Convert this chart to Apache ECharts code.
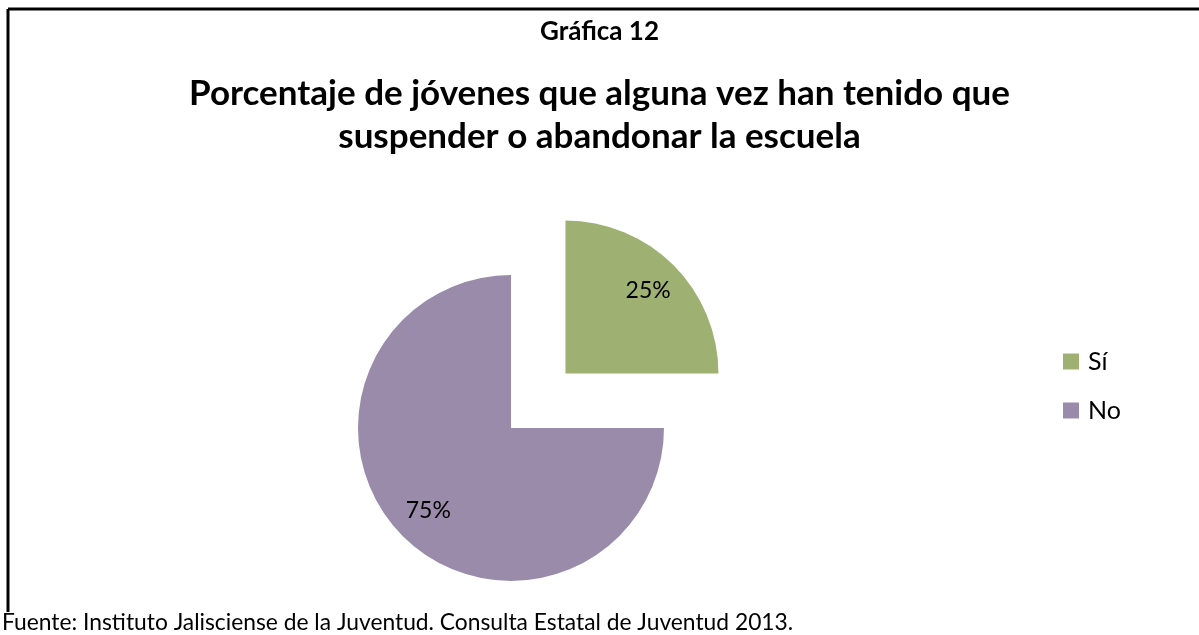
<!DOCTYPE html>
<html>
<head>
<meta charset="utf-8">
<script src="https://cdn.jsdelivr.net/npm/echarts@6/dist/echarts.min.js"></script>
<style>
  html, body { margin: 0; padding: 0; background: #fff; }
  #chart { width: 1199px; height: 635px; }
</style>
</head>
<body>
<div id="chart"></div>
<script>
// datos de la gráfica
const categorias = ["Sí", "No"];
const porcentajes = [25, 75];
const colores = ["#9EB172", "#9A8BAB"];

const fuente = "Lato, 'Open Sans', sans-serif";

let myChart = echarts.init(document.getElementById("chart"));

const datos = categorias.map((c, i) => ({
  name: c,
  value: porcentajes[i],
  selected: i === 0, // la rebanada "Sí" va separada
  itemStyle: { color: colores[i] },
}));

let option = {
  animation: false,
  title: [
    {
      text: "Gráfica 12",
      left: "center",
      top: 14,
      textStyle: { fontFamily: fuente, fontSize: 26, fontWeight: "bold", color: "#000" },
    },
    {
      text: "Porcentaje de jóvenes que alguna vez han tenido que\nsuspender o abandonar la escuela",
      left: "center",
      top: 67,
      textStyle: {
        fontFamily: fuente,
        fontSize: 35,
        fontWeight: "bold",
        color: "#000",
        lineHeight: 43,
      },
    },
    {
      text: "Fuente: Instituto Jalisciense de la Juventud. Consulta Estatal de Juventud 2013.",
      left: -3,
      top: 606,
      textStyle: { fontFamily: fuente, fontSize: 22.8, fontWeight: "normal", color: "#000" },
    },
  ],
  legend: {
    orient: "vertical",
    left: 1058,
    top: 344,
    itemWidth: 16,
    itemHeight: 16,
    itemGap: 24,
    icon: "rect",
    selectedMode: false,
    data: categorias,
    textStyle: { fontFamily: fuente, fontSize: 25, color: "#000", padding: [0, 0, 0, 4] },
  },
  graphic: [
    { type: "line", shape: { x1: 8, y1: 9, x2: 1199, y2: 9 }, style: { stroke: "#000", lineWidth: 3 } },
    { type: "line", shape: { x1: 8, y1: 9, x2: 8, y2: 612 }, style: { stroke: "#000", lineWidth: 3 } },
  ],
  series: [
    {
      name: "pie",
      type: "pie",
      center: [511, 428],
      radius: 153,
      startAngle: 90,
      selectedMode: "single",
      selectedOffset: 77,
      silent: true,
      label: { show: false },
      labelLine: { show: false },
      select: { itemStyle: { borderWidth: 0 } },
      data: datos,
    },
    {
      // serie transparente sólo para colocar las etiquetas
      name: "etiquetas",
      type: "pie",
      center: [511, 428],
      radius: [75, 153],
      startAngle: 90,
      selectedMode: "single",
      selectedOffset: 77,
      silent: true,
      itemStyle: { color: "rgba(0,0,0,0)" },
      label: {
        show: true,
        position: "inside",
        formatter: "{c}%",
        fontFamily: fuente,
        fontSize: 23,
        color: "#000",
      },
      labelLine: { show: false },
      data: categorias.map((c, i) => ({
        name: c,
        value: porcentajes[i],
        selected: i === 0,
        itemStyle: { color: "rgba(0,0,0,0)" },
      })),
    },
  ],
};
myChart.setOption(option);
</script>
</body>
</html>
